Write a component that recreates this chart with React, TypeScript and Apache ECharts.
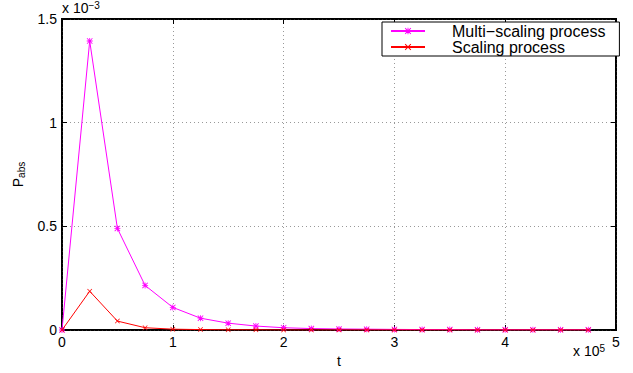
import React, { useEffect, useRef } from "react";
import * as echarts from "echarts";

// t in units of 10^5, P in units of 10^-3
const tValues = [0, 0.25, 0.5, 0.75, 1.0, 1.25, 1.5, 1.75, 2.0, 2.25, 2.5, 2.75, 3.0, 3.25, 3.5, 3.75, 4.0, 4.25, 4.5, 4.75];
const multiScaling = [0, 1.394, 0.49, 0.215, 0.109, 0.057, 0.033, 0.019, 0.011, 0.007, 0.005, 0.004, 0.003, 0.002, 0.002, 0.001, 0.001, 0.001, 0.001, 0.001];
const scaling = [0, 0.187, 0.043, 0.011, 0.004, 0.002, 0.001, 0.001, 0, 0, 0, 0, 0, 0, 0, 0, 0, 0, 0, 0];
const xTicks = [0, 1, 2, 3, 4, 5];
const yTicks = [0, 0.5, 1, 1.5];

const FONT = "Liberation Sans";
const W = 633;
const H = 373;
const G = { left: 62, right: 17, top: 19, bottom: 43 };

const crossPath = "path://M0,1 L1,0 L5,4 L9,0 L10,1 L6,5 L10,9 L9,10 L5,6 L1,10 L0,9 L4,5 Z";
const starPath =
  "path://M0,1 L1,0 L5,4 L9,0 L10,1 L6,5 L10,9 L9,10 L5,6 L1,10 L0,9 L4,5 Z M4.3,0 L5.7,0 L5.7,10 L4.3,10 Z M0,4.3 L10,4.3 L10,5.7 L0,5.7 Z";

export default function App() {
  const ref = useRef<HTMLDivElement>(null);
  useEffect(() => {
    if (!ref.current) return;
    const chart = echarts.init(ref.current, null, { renderer: "svg" });
    const axisCommon = {
      axisLine: { show: true, onZero: false, lineStyle: { color: "#000", width: 1.5 } },
      axisTick: { show: true, inside: true, length: 5, lineStyle: { color: "#000" } },
    };
    chart.setOption({
      animation: false,
      backgroundColor: "#fff",
      textStyle: { fontFamily: FONT },
      grid: { ...G, show: true, borderColor: "#000", borderWidth: 2, backgroundColor: "rgba(0,0,0,0)" },
      legend: {
        orient: "vertical",
        left: 382,
        top: 22,
        width: 228,
        backgroundColor: "#fff",
        borderColor: "#000",
        borderWidth: 1,
        borderRadius: 0,
        padding: [1, 14, 1, 8],
        itemGap: 0,
        itemWidth: 34,
        itemHeight: 8,
        textStyle: { fontFamily: FONT, fontSize: 16, color: "#000", padding: [0, 0, 0, 22] },
        data: ["Multi\u2212scaling process", "Scaling process"],
      },
      xAxis: [
        {
          type: "value",
          min: 0,
          max: 5,
          interval: 1,
          position: "bottom",
          name: "t",
          nameLocation: "middle",
          nameGap: 22,
          nameTextStyle: { fontFamily: FONT, fontSize: 14, color: "#000" },
          ...axisCommon,
          axisLabel: { color: "#000", fontFamily: FONT, fontSize: 14, margin: 5, formatter: (v: number) => (xTicks.includes(v) ? String(v) : "") },
          splitLine: { show: true, lineStyle: { color: "#999", type: [1, 3], width: 1 } },
        },
        {
          type: "value",
          min: 0,
          max: 5,
          interval: 1,
          position: "top",
          ...axisCommon,
          axisLabel: { show: false },
          splitLine: { show: false },
        },
      ],
      yAxis: [
        {
          type: "value",
          min: 0,
          max: 1.5,
          interval: 0.5,
          position: "left",
          name: "P{sub|abs}",
          nameLocation: "middle",
          nameGap: 36,
          nameRotate: 90,
          nameTextStyle: {
            fontFamily: FONT,
            fontSize: 14,
            color: "#000",
            rich: { sub: { fontSize: 10, verticalAlign: "bottom", padding: [6, 0, 0, 0], fontFamily: FONT, color: "#000" } },
          },
          ...axisCommon,
          axisLabel: { color: "#000", fontFamily: FONT, fontSize: 14, margin: 5, formatter: (v: number) => (yTicks.includes(v) ? String(v) : "") },
          splitLine: { show: true, lineStyle: { color: "#999", type: [1, 3], width: 1 } },
        },
        {
          type: "value",
          min: 0,
          max: 1.5,
          interval: 0.5,
          position: "right",
          ...axisCommon,
          axisLabel: { show: false },
          splitLine: { show: false },
        },
      ],
      series: [
        {
          name: "Multi\u2212scaling process",
          type: "line",
          data: tValues.map((t, i) => [t, multiScaling[i]]),
          symbol: starPath,
          symbolSize: 6,
          showSymbol: true,
          lineStyle: { color: "#ff00ff", width: 1 },
          itemStyle: { color: "#ff00ff" },
          z: 3,
        },
        {
          name: "Scaling process",
          type: "line",
          data: tValues.map((t, i) => [t, scaling[i]]),
          symbol: crossPath,
          symbolSize: 5,
          showSymbol: true,
          lineStyle: { color: "#ff0000", width: 1 },
          itemStyle: { color: "#ff0000" },
          z: 4,
        },
      ],
      graphic: [
        {
          type: "text",
          left: 62,
          top: 0,
          style: {
            text: "x 10{sup|\u22123}",
            fontFamily: FONT,
            fontSize: 14,
            fill: "#000",
            rich: { sup: { fontSize: 10, verticalAlign: "top", padding: [0, 0, 6, 0], fontFamily: FONT, fill: "#000" } },
          },
        },
        {
          type: "text",
          left: 573,
          top: 343,
          style: {
            text: "x 10{sup|5}",
            fontFamily: FONT,
            fontSize: 14,
            fill: "#000",
            rich: { sup: { fontSize: 10, verticalAlign: "top", padding: [0, 0, 6, 0], fontFamily: FONT, fill: "#000" } },
          },
        },
      ],
    });
    return () => chart.dispose();
  }, []);
  return <div ref={ref} style={{ width: W, height: H, position: "fixed", left: 0, top: 0 }} />;
}
